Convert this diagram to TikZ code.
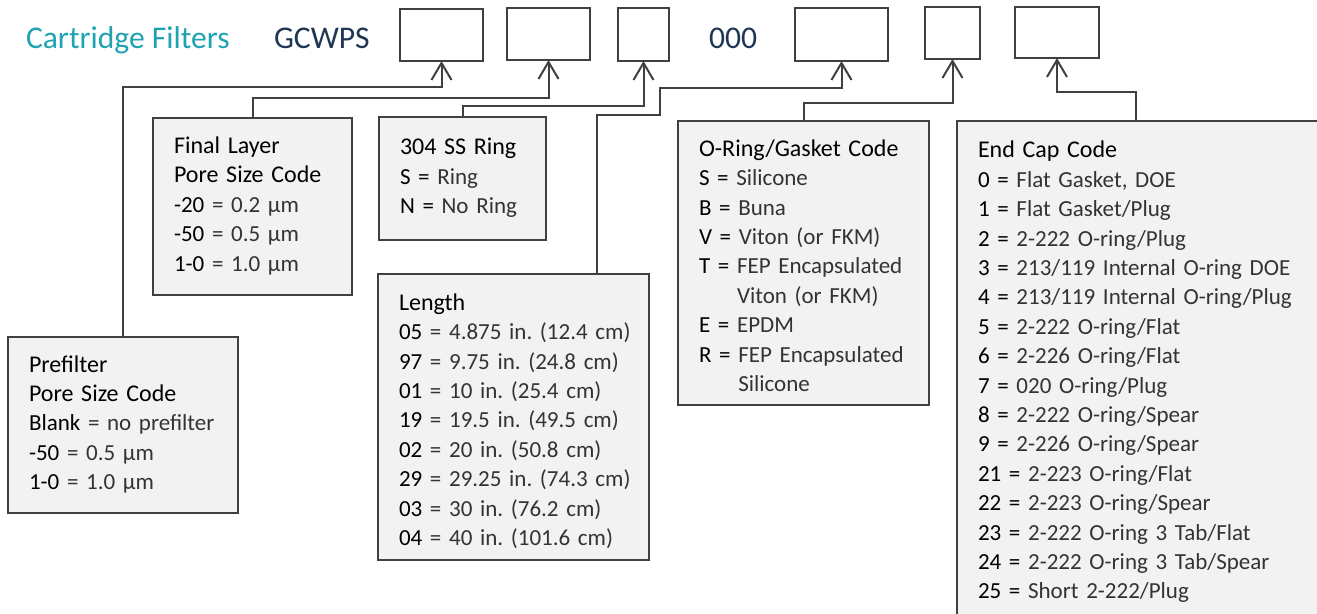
\documentclass[tikz,border=0pt]{standalone}
\usepackage{fontspec}
\setmainfont{Carlito}
\usepackage{tikz}
\usetikzlibrary{arrows.meta}
\usetikzlibrary{calc}
\usetikzlibrary{positioning}
\usepackage{xcolor}
\definecolor{titleteal}{HTML}{1FA3B3}
\definecolor{codenavy}{HTML}{1F3654}
\definecolor{boxfill}{HTML}{F2F2F2}
\definecolor{linegray}{HTML}{404040}
\definecolor{desc}{HTML}{333333}
\newcommand{\cd}[1]{{\color{black}#1}}
\newcommand{\hd}[1]{{\fontsize{24}{29.4}\selectfont\color{black}#1}}
\newcommand{\rows}[1]{\begin{tabular}{@{}l@{}}#1\end{tabular}}
\newcommand{\lowr}{\rule{0pt}{30.6pt}}
\frenchspacing

\begin{document}
\begin{tikzpicture}[
			x=1pt, y=-1pt,
			every node/.style={inner sep=0pt, outer sep=0pt},
			slot/.style={draw=linegray, line width=2pt, anchor=north west},
			legend/.style={draw=linegray, line width=2pt, fill=boxfill, anchor=north west,
					inner xsep=21pt, inner ysep=0pt, align=left, text=desc,
					font=\fontsize{23}{29.4}\selectfont},
			arr/.style={draw=linegray, line width=2pt, -{Straight Barb[length=17pt, width=20pt]}},
			bigtext/.style={anchor=base west, font=\fontsize{31.6}{36}\selectfont}
		]
		\useasboundingbox (0,0) rectangle (1317,613);
		\clip (0,0) rectangle (1317,613);

		% --- Heading ---
		\node[bigtext, text=titleteal] (title) at (26,48) {Cartridge Filters};
		\node[bigtext, text=codenavy] (model) at (274,48) {GCWPS};
		\node[bigtext, text=codenavy] (zeros) at (709,48) {000};

		% --- Part number boxes ---
		\node[slot, minimum width=83pt, minimum height=52pt] (b1) at (400,9) {};
		\node[slot, minimum width=83pt, minimum height=52pt] (b2) at (507,8) {};
		\node[slot, minimum width=51pt, minimum height=53pt] (b3) at (618,8) {};
		\node[slot, minimum width=93pt, minimum height=53pt] (b4) at (795,8) {};
		\node[slot, minimum width=55pt, minimum height=52pt] (b5) at (925,7) {};
		\node[slot, minimum width=84pt, minimum height=51pt] (b6) at (1015,7) {};

		% --- Code tables ---
		\node[legend, text width=188pt, minimum height=176pt] (pre) at (8,337)
		{\rows{\hd{Prefilter}\\ \hd{Pore Size Code}\\ \cd{Blank} = no prefilter\\
				\cd{-50} = 0.5 µm\\ \cd{1-0} = 1.0 µm}};
		\node[legend, text width=157pt, minimum height=177pt] (final) at (153,118)
		{\rows{\hd{Final Layer}\\ \hd{Pore Size Code}\\ \cd{-20} = 0.2 µm\\
				\cd{-50} = 0.5 µm\\ \cd{1-0} = 1.0 µm}};
		\node[legend, text width=125pt, minimum height=123pt] (ring) at (379,117)
		{\rows{\hd{304 SS Ring}\\ \cd{S =} Ring\\ \cd{N =} No Ring}};
		\node[legend, text width=229pt, minimum height=286pt] (len) at (378,274)
		{\rows{\lowr\hd{Length}\\ \cd{05} = 4.875 in. (12.4 cm)\\ \cd{97} = 9.75 in. (24.8 cm)\\
				\cd{01} = 10 in. (25.4 cm)\\ \cd{19} = 19.5 in. (49.5 cm)\\
				\cd{02} = 20 in. (50.8 cm)\\ \cd{29} = 29.25 in. (74.3 cm)\\
				\cd{03} = 30 in. (76.2 cm)\\ \cd{04} = 40 in. (101.6 cm)}};
		\node[legend, text width=209pt, minimum height=284pt] (seal) at (678,121)
		{\rows{\lowr\hd{O-Ring/Gasket Code}\\ \cd{S =} Silicone\\ \cd{B =} Buna\\
				\cd{V =} Viton (or FKM)\\ \cd{T =} FEP Encapsulated\\
				\phantom{T = }Viton (or FKM)\\ \cd{E =} EPDM\\
				\cd{R =} FEP Encapsulated\\ \phantom{R = }Silicone}};
		\node[legend, text width=331pt, minimum height=503pt] (cap) at (957,121)
		{\rows{\hd{End Cap Code}\\ \cd{0 =} Flat Gasket, DOE\\ \cd{1 =} Flat Gasket/Plug\\
				\cd{2 =} 2-222 O-ring/Plug\\ \cd{3 =} 213/119 Internal O-ring DOE\\
				\cd{4 =} 213/119 Internal O-ring/Plug\\ \cd{5 =} 2-222 O-ring/Flat\\
				\cd{6 =} 2-226 O-ring/Flat\\ \cd{7 =} 020 O-ring/Plug\\
				\cd{8 =} 2-222 O-ring/Spear\\ \cd{9 =} 2-226 O-ring/Spear\\
				\cd{21 =} 2-223 O-ring/Flat\\ \cd{22 =} 2-223 O-ring/Spear\\
				\cd{23 =} 2-222 O-ring 3 Tab/Flat\\ \cd{24 =} 2-222 O-ring 3 Tab/Spear\\
				\cd{25 =} Short 2-222/Plug}};

		% --- Leader lines ---
		\coordinate (lk) at (660,115);
		\draw[arr] (pre.north) |- ([yshift=-26pt]b1.south) -- (b1.south);
		\draw[arr] (final.north) |- ([yshift=-38pt]b2.south) -- (b2.south);
		\draw[arr] (ring.north) |- ([yshift=-45pt]b3.south) -- (b3.south);
		\draw[arr] ([xshift=83.5pt]len.north) |- (lk) |- ([yshift=-27pt]b4.south) -- (b4.south);
		\draw[arr] (seal.north) |- ([yshift=-44pt]b5.south) -- (b5.south);
		\draw[arr] ([xshift=-7.5pt]cap.north) |- ([yshift=-34pt]b6.south) -- (b6.south);

	\end{tikzpicture}
\end{document}
